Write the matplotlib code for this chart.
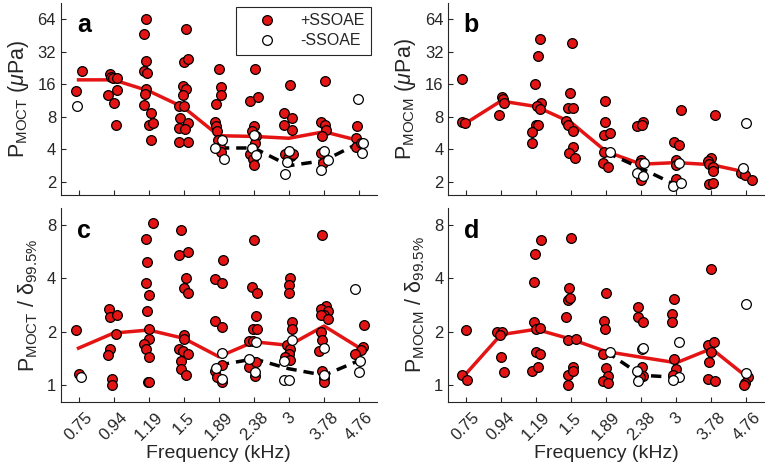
import numpy as np
import matplotlib.pyplot as plt
from matplotlib.ticker import NullLocator

plt.rcParams['font.family'] = ['Liberation Sans', 'DejaVu Sans']
plt.rcParams['mathtext.fontset'] = 'custom'
plt.rcParams['mathtext.rm'] = 'Liberation Sans'
plt.rcParams['mathtext.it'] = 'Liberation Sans:italic'
plt.rcParams['mathtext.bf'] = 'Liberation Sans:bold'

freqs = ['0.75', '0.94', '1.19', '1.5', '1.89', '2.38', '3', '3.78', '4.76']
nan = np.nan

# ---- panel a: P_MOCT (uPa) ----
a_red = [[13.9, 21.3],
         [19.8, 18.7, 18.2, 18.2, 14.3, 12.8, 10.7, 6.74],
         [64, 46.5, 26.3, 21.3, 20.5, 14.4, 12.95, 10.3, 8.58, 6.74, 6.98, 4.86],
         [51.7, 25.8, 27.3, 15.5, 14.4, 12.8, 9.96, 9.96, 7.77, 6.98, 6.28, 6.1, 4.69, 4.69],
         [22.0, 15.25, 12.8, 10.47, 7.1, 6.5, 5.9, 4.9, 4.2, 3.8],
         [22.0, 11.2, 12.3, 6.6, 5.9, 5.25, 4.56, 3.6, 3.24, 2.87],
         [15.8, 8.64, 7.77, 6.74, 6.05, 3.6, 3.48, 3.3, 3.6],
         [17.2, 7.2, 6.7, 6.05, 5.25, 3.7, 2.95],
         [6.6, 5.1, 4.16, 4.6]]
a_red_jit = [[-0.08, 0.11],
             [-0.11, -0.07, -0.02, 0.1, 0.1, -0.15, 0.01, 0.06],
             [-0.09, -0.13, -0.09, -0.13, -0.04, -0.09, -0.11, -0.13, 0.08, 0.01, 0.13, 0.06],
             [0.07, 0.02, 0.13, -0.03, 0.05, -0.03, -0.13, 0.02, -0.11, 0.12, -0.13, 0.04, -0.13, 0.12],
             [0, 0.07, 0.07, -0.07, -0.11, -0.07, -0.05, -0.02, 0.03, 0.05],
             [0.04, -0.12, 0.11, -0.01, -0.04, 0.06, 0.03, -0.1, -0.03, -0.01],
             [0.02, -0.13, 0.1, -0.15, 0.09, -0.1, 0.07, -0.03, 0.12],
             [0.03, -0.08, 0.03, 0.05, -0.07, -0.1, -0.03],
             [-0.05, -0.1, -0.1, 0.05]]
a_open = [[9.96], [], [], [], [4.1, 4.9, 3.24], [5.45, 4.1, 3.56],
          [3.87, 3.02, 2.36], [3.87, 3.2, 2.57], [11.6, 4.56, 3.69]]
a_open_jit = [[-0.03], [], [], [], [-0.11, 0.08, 0.14], [0, -0.06, 0.05],
              [0, -0.07, -0.1], [0, 0.12, -0.1], [-0.02, 0.11, 0.08]]
a_line = [17.6, 17.6, 13.9, 9.75, 5.33, 5.25, 5.05, 5.8, 4.8]
a_dash = [nan, nan, nan, nan, 4.1, 4.1, 2.81, 3.13, 4.56]

# ---- panel b: P_MOCM (uPa) ----
b_red = [[17.8, 7.18, 6.98],
         [12.3, 11.6, 10.7, 8.34],
         [41.8, 29.3, 16.0, 10.7, 10.1, 9.4, 6.69, 6.69, 5.72, 4.56],
         [38.9, 13.4, 9.6, 9.6, 7.23, 6.7, 5.84, 4.16, 3.68, 3.29],
         [11.2, 7.2, 5.4, 5.6, 3.8, 2.96, 2.75],
         [6.5, 7.1, 6.7, 3.2, 3.0, 2.07],
         [9.27, 4.69, 4.37, 3.2, 2.85, 2.12],
         [8.33, 3.29, 3.1, 2.9, 2.75, 2.53, 1.88, 1.93],
         [2.41, 2.32, 2.07]]
b_red_jit = [[-0.12, -0.12, -0.02],
             [0.02, 0.05, 0.1, -0.06],
             [0.1, 0.05, -0.02, 0.14, 0.03, 0.1, 0, 0.05, -0.1, -0.11],
             [0.03, -0.02, -0.08, 0.05, -0.14, -0.08, 0.05, 0.05, -0.05, 0.1],
             [-0.03, -0.03, -0.05, 0.1, -0.06, -0.1, 0.05],
             [-0.13, 0.04, 0.02, 0, -0.03, 0],
             [0.12, -0.07, 0.09, 0, -0.02, -0.02],
             [0.09, -0.01, -0.11, -0.07, 0.04, 0.04, -0.06, 0.04],
             [-0.15, -0.04, 0.15]]
b_open = [[], [], [], [], [3.74], [2.96, 2.4, 2.25], [2.98, 1.8, 1.93], [], [6.98, 2.66]]
b_open_jit = [[], [], [], [], [0.1], [0.08, -0.12, 0.04], [0.08, -0.09, 0.13], [], [0, -0.09]]
b_line = [6.98, 11.2, 9.96, 7.08, 3.8, 2.9, 3.0, 2.87, 2.44]
b_dash = [nan, nan, nan, nan, 3.74, 2.65, 1.85, nan, nan]

# ---- panel c: P_MOCT / delta99.5% ----
c_red = [[2.03, 1.15],
         [2.69, 2.41, 2.48, 1.94, 1.6, 1.48, 1.08, 1.0],
         [8.2, 6.73, 4.97, 3.75, 3.22, 2.63, 2.07, 1.82, 1.7, 1.6, 1.43, 1.03, 1.03],
         [7.5, 5.44, 5.66, 4.0, 3.51, 3.29, 1.92, 1.82, 1.6, 1.56, 1.5, 1.37, 1.23, 1.14],
         [5.08, 3.95, 3.75, 2.3, 2.12, 1.3, 1.2, 1.1, 1.04],
         [6.6, 3.59, 3.33, 2.46, 2.07, 2.07, 1.76, 1.76, 1.26, 1.34, 1.12],
         [4.02, 3.67, 3.33, 2.26, 2.07, 1.67, 1.6, 1.5, 1.43, 1.38],
         [7.05, 2.8, 2.69, 2.6, 2.48, 2.48, 2.36, 1.98, 1.79, 1.56, 1.2, 1.09, 1.04],
         [2.19, 1.63, 1.58, 1.5]]
c_red_jit = [[-0.08, 0.01],
             [-0.13, -0.1, 0.1, 0.06, -0.1, -0.15, -0.04, -0.04],
             [0.13, -0.09, -0.06, -0.09, 0.01, -0.06, 0.01, 0.01, -0.13, -0.09, 0.01, -0.03, 0.02],
             [-0.08, -0.13, 0.13, 0.07, 0.02, 0.13, 0.02, 0.02, -0.13, -0.03, 0.13, -0.08, -0.08, 0.07],
             [0.12, -0.1, 0.1, -0.1, 0.1, 0.1, -0.1, -0.05, 0.08],
             [0.01, -0.04, 0.09, 0.07, -0.03, 0.08, -0.15, -0.03, -0.13, 0.07, 0.04],
             [0.03, 0.01, -0.01, 0.09, 0.09, -0.06, 0.03, -0.01, -0.1, 0.02],
             [-0.05, 0.05, -0.1, 0.1, 0, -0.1, 0.12, -0.08, -0.05, -0.15, -0.05, 0, 0],
             [0.13, 0.1, 0.05, -0.13]]
c_open = [[1.1], [], [], [], [1.52, 1.25, 1.08], [1.75, 1.4, 1.18],
          [1.78, 1.37, 1.06, 1.06], [1.62, 1.13], [3.48, 1.37, 1.18]]
c_open_jit = [[0.07], [], [], [], [0.1, -0.08, 0.08], [0.07, -0.13, 0.04],
              [0.09, -0.15, -0.15, -0.01], [0, 0], [-0.13, 0.02, 0]]
c_line = [1.61, 1.96, 2.04, 1.83, 1.44, 1.75, 1.67, 2.15, 1.62]
c_dash = [nan, nan, nan, nan, 1.29, 1.4, 1.23, 1.13, 1.37]

# ---- panel d: P_MOCM / delta99.5% ----
d_red = [[2.03, 1.14, 1.06],
         [1.98, 1.98, 1.9, 1.43, 1.18],
         [6.6, 5.49, 3.8, 2.26, 2.07, 2.1, 1.53, 1.5, 1.2, 1.26],
         [6.76, 3.51, 3.03, 3.1, 2.41, 1.78, 1.82, 1.26, 1.13, 1.0, 1.2],
         [3.33, 2.31, 2.07, 1.5, 1.25, 1.12, 1.05, 1.02],
         [2.77, 2.41, 2.26, 1.26, 1.12, 1.1],
         [3.06, 2.52, 2.26, 1.4, 1.22, 1.14],
         [4.55, 1.67, 1.74, 1.53, 1.34, 1.08, 1.05],
         [1.1, 1.02, 1.0]]
d_red_jit = [[0, -0.11, 0.03],
             [-0.1, 0.02, -0.03, 0.0, 0.1],
             [0.14, -0.02, -0.07, -0.07, 0, 0.12, 0, 0.1, -0.1, 0.05],
             [0, -0.05, -0.08, -0.02, -0.14, -0.1, 0.14, 0.05, -0.08, -0.1, 0.05],
             [0, -0.05, -0.03, -0.1, 0, 0.05, -0.1, 0.05],
             [-0.1, -0.1, 0.05, 0.02, 0.06, -0.03],
             [-0.07, -0.12, -0.12, -0.07, -0.02, -0.09],
             [0, -0.09, 0.08, 0.0, -0.07, -0.09, 0.09],
             [0.05, -0.04, -0.06]]
d_open = [[], [], [], [], [1.54], [1.6, 1.62, 1.2, 1.05], [1.74, 1.1, 1.06], [], [2.87, 1.17]]
d_open_jit = [[], [], [], [], [0.1], [0.02, 0.05, -0.12, -0.08], [0.08, 0.08, -0.09], [], [0, -0.02]]
d_line = [1.15, 1.92, 2.06, 1.81, 1.54, 1.43, 1.33, 1.6, 1.11]
d_dash = [nan, nan, nan, nan, 1.54, 1.13, 1.1, nan, nan]

RED = '#e41414'
DARK = '#262626'


def flatten(vals, jit):
    xs, ys = [], []
    for i, (v, j) in enumerate(zip(vals, jit)):
        for vv, jj in zip(v, j):
            xs.append(i + jj)
            ys.append(vv)
    return xs, ys


def draw_panel(ax, red, red_jit, opn, opn_jit, line, dash, letter, yticks, ylim, ylabel, bottom):
    x = np.arange(len(freqs))
    ax.plot(x, line, color=RED, lw=2.5, zorder=2)
    ax.plot(x, dash, color='black', lw=2.5, ls=(0, (3, 2)), zorder=2)
    rx, ry = flatten(red, red_jit)
    ox, oy = flatten(opn, opn_jit)
    hr, = ax.plot(rx, ry, 'o', ms=7, mfc=RED, mec='black', mew=0.9, zorder=3, label='+SSOAE')
    ho, = ax.plot(ox, oy, 'o', ms=7, mfc='white', mec='black', mew=0.9, zorder=4, label='-SSOAE')
    ax.set_yscale('log', base=2)
    ax.set_ylim(*ylim)
    ax.set_xlim(-0.5, 8.5)
    ax.set_yticks(yticks)
    ax.set_yticklabels([str(t) for t in yticks])
    ax.yaxis.set_minor_locator(NullLocator())
    ax.set_xticks(x)
    if bottom:
        ax.set_xticklabels(freqs, rotation=45, ha='center')
        ax.set_xlabel('Frequency (kHz)', fontsize=14, color=DARK, labelpad=1)
    else:
        ax.set_xticklabels([])
    for s in ['top', 'right']:
        ax.spines[s].set_visible(False)
    for s in ['left', 'bottom']:
        ax.spines[s].set_color(DARK)
        ax.spines[s].set_linewidth(0.8)
    ax.tick_params(direction='in', length=3.5, width=0.8, colors=DARK, labelsize=12)
    ax.tick_params(axis='x', pad=6)
    ax.set_ylabel(ylabel, fontsize=15.5, color=DARK, labelpad=5)
    ax.text(0.073, 0.885, letter, transform=ax.transAxes, fontsize=18,
            fontweight='bold', ha='center', va='center', color='black')
    return hr, ho


fig = plt.figure(figsize=(7.67, 4.63), dpi=100)
ax_a = fig.add_axes([0.0795, 0.5788, 0.4116, 0.4147])
ax_b = fig.add_axes([0.5845, 0.5788, 0.4116, 0.4147])
ax_c = fig.add_axes([0.0795, 0.1324, 0.4116, 0.4177])
ax_d = fig.add_axes([0.5845, 0.1324, 0.4116, 0.4177])

top_ticks = [2, 4, 8, 16, 32, 64]
bot_ticks = [1, 2, 4, 8]
hr, ho = draw_panel(ax_a, a_red, a_red_jit, a_open, a_open_jit, a_line, a_dash, 'a',
                    top_ticks, (1.5, 91), r'P$_{\mathrm{MOCT}}$ ($\mu$Pa)', False)
draw_panel(ax_b, b_red, b_red_jit, b_open, b_open_jit, b_line, b_dash, 'b',
           top_ticks, (1.5, 91), r'P$_{\mathrm{MOCM}}$ ($\mu$Pa)', False)
draw_panel(ax_c, c_red, c_red_jit, c_open, c_open_jit, c_line, c_dash, 'c',
           bot_ticks, (0.8, 10), r'P$_{\mathrm{MOCT}}$ / δ$_{99.5\%}$', True)
draw_panel(ax_d, d_red, d_red_jit, d_open, d_open_jit, d_line, d_dash, 'd',
           bot_ticks, (0.8, 10), r'P$_{\mathrm{MOCM}}$ / δ$_{99.5\%}$', True)

leg = ax_a.legend(handles=[hr, ho], loc='upper right', bbox_to_anchor=(0.982, 0.979),
                  borderaxespad=0, fontsize=11.5, handlelength=3.0, handletextpad=0.6,
                  labelspacing=0.3, fancybox=False, framealpha=1, edgecolor=DARK)
leg.get_frame().set_linewidth(0.8)
for t in leg.get_texts():
    t.set_color(DARK)

fig.savefig('out.png', dpi=100)
